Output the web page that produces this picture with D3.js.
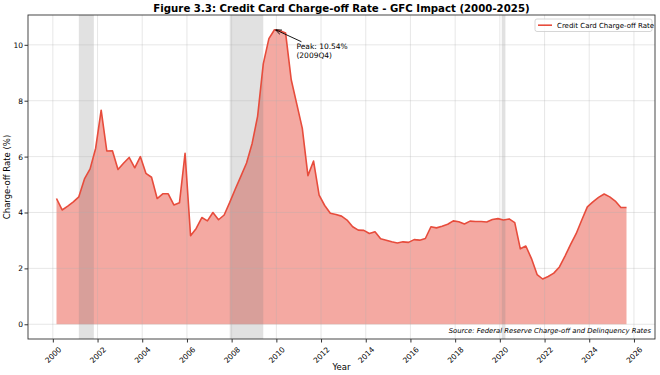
<!DOCTYPE html>
<html>
<head>
<meta charset="utf-8">
<script src="https://cdn.jsdelivr.net/npm/d3@7"></script>
<style>
  body { margin: 0; background: #fff; }
  text { font-family: "DejaVu Sans", sans-serif; fill: #000; }
</style>
</head>
<body>
<div id="chart"></div>
<script>
// quarterly credit card charge-off rate (%), 2000Q1 .. 2025Q3
const firstYear = 2000;
const rates = [
  4.50, 4.09, 4.23, 4.38, 4.56, 5.20, 5.56, 6.30, 7.66, 6.20,
  6.21, 5.54, 5.76, 5.97, 5.60, 6.00, 5.40, 5.26, 4.50, 4.67,
  4.67, 4.27, 4.35, 6.12, 3.17, 3.43, 3.82, 3.70, 4.00, 3.74,
  3.91, 4.36, 4.84, 5.30, 5.77, 6.47, 7.45, 9.32, 10.22, 10.54,
  10.50, 10.42, 8.75, 7.88, 7.01, 5.32, 5.84, 4.62, 4.25, 3.97,
  3.93, 3.87, 3.73, 3.49, 3.37, 3.36, 3.25, 3.31, 3.06, 3.01,
  2.95, 2.91, 2.95, 2.93, 3.03, 3.01, 3.07, 3.49, 3.45, 3.51,
  3.58, 3.70, 3.67, 3.59, 3.69, 3.68, 3.68, 3.66, 3.75, 3.78,
  3.73, 3.77, 3.64, 2.70, 2.80, 2.35, 1.78, 1.62, 1.71, 1.83,
  2.05, 2.44, 2.85, 3.24, 3.73, 4.20, 4.38, 4.54, 4.66, 4.56,
  4.41, 4.18, 4.18
];
// NBER recessions
const recessionStart = ["2001-03-01", "2007-12-01", "2020-02-01"];
const recessionEnd = ["2001-11-01", "2009-06-01", "2020-04-01"];
const yTicks = [0, 2, 4, 6, 8, 10];
const seriesName = "Credit Card Charge-off Rate";
const title = "Figure 3.3: Credit Card Charge-off Rate - GFC Impact (2000-2025)";
const sourceNote = "Source: Federal Reserve Charge-off and Delinquency Rates";

const data = rates.map((v, i) => {
  const yr = firstYear + Math.floor(i / 4);
  const q = i % 4;
  return { date: new Date(yr, q * 3 + 2, 1), label: `${yr}Q${q + 1}`, v: v };
});

const margin = { top: 15, right: 5, bottom: 36, left: 28 },
  width = 660 - margin.left - margin.right,
  height = 375 - margin.top - margin.bottom;

const svg = d3
  .select("#chart")
  .append("svg")
  .attr("width", width + margin.left + margin.right)
  .attr("height", height + margin.top + margin.bottom);

const g = svg.append("g").attr("transform", `translate(${margin.left},${margin.top})`);

// matplotlib-like 5% padding
const ext = d3.extent(data, (d) => +d.date);
const padX = (ext[1] - ext[0]) * 0.05;
const x = d3.scaleTime()
  .domain([new Date(ext[0] - padX), new Date(ext[1] + padX)])
  .range([0, width]);

const maxV = d3.max(data, (d) => d.v);
const y = d3.scaleLinear()
  .domain([-maxV * 0.05, maxV * 1.05])
  .range([height, 0]);

// area fill
const area = d3.area().x((d) => x(d.date)).y0(y(0)).y1((d) => y(d.v));
g.append("path").datum(data)
  .attr("d", area)
  .attr("fill", "#e74c3c")
  .attr("fill-opacity", 0.48);

// recession shading
g.append("g").selectAll("rect")
  .data(recessionStart.map((s, i) => [new Date(s), new Date(recessionEnd[i])]))
  .join("rect")
  .attr("x", (d) => x(d[0]))
  .attr("width", (d) => x(d[1]) - x(d[0]))
  .attr("y", 0)
  .attr("height", height)
  .attr("fill", "gray")
  .attr("fill-opacity", 0.24);

// grid
const xTicks = x.ticks(d3.timeYear.every(2));
g.append("g").selectAll("line")
  .data(xTicks)
  .join("line")
  .attr("x1", (d) => x(d)).attr("x2", (d) => x(d))
  .attr("y1", 0).attr("y2", height)
  .attr("stroke", "#b0b0b0").attr("stroke-opacity", 0.3);
g.append("g").selectAll("line")
  .data(yTicks)
  .join("line")
  .attr("y1", (d) => y(d)).attr("y2", (d) => y(d))
  .attr("x1", 0).attr("x2", width)
  .attr("stroke", "#b0b0b0").attr("stroke-opacity", 0.3);

// line
const line = d3.line().x((d) => x(d.date)).y((d) => y(d.v));
g.append("path").datum(data)
  .attr("d", line)
  .attr("fill", "none")
  .attr("stroke", "#e74c3c")
  .attr("stroke-width", 1.6)
  .attr("stroke-linejoin", "round");

// axes
const xAxis = g.append("g")
  .attr("transform", `translate(0,${height})`)
  .call(d3.axisBottom(x).tickValues(xTicks).tickFormat(d3.timeFormat("%Y")).tickSize(3.5).tickSizeOuter(0));
xAxis.selectAll("text")
  .attr("font-size", 7.5)
  .attr("text-anchor", "middle")
  .attr("dy", null)
  .attr("y", 0)
  .attr("dominant-baseline", "central")
  .attr("transform", "translate(0,16) rotate(-45)");

const yAxis = g.append("g")
  .call(d3.axisLeft(y).tickValues(yTicks).tickSize(3.5).tickSizeOuter(0));
yAxis.selectAll("text").attr("font-size", 7.5).attr("x", -5);

[xAxis, yAxis].forEach((a) => {
  a.select(".domain").remove();
  a.selectAll(".tick line").attr("stroke", "#333");
  a.selectAll("text").style("font-family", "DejaVu Sans").attr("fill", "#000");
});

// frame
g.append("rect")
  .attr("width", width).attr("height", height)
  .attr("fill", "none").attr("stroke", "#333").attr("stroke-width", 0.9);

// peak annotation
const peak = data.reduce((a, b) => (b.v > a.v ? b : a));
const px = x(peak.date), py = y(peak.v);
const tx = x(new Date(2010, 10, 25)), ty = y(9.86);
svg.append("defs").append("marker")
  .attr("id", "arr").attr("viewBox", "0 0 10 10")
  .attr("refX", 10).attr("refY", 5)
  .attr("markerWidth", 7).attr("markerHeight", 7)
  .attr("orient", "auto")
  .append("path").attr("d", "M0,1 L10,5 L0,9").attr("fill", "none").attr("stroke", "#000").attr("stroke-width", 1.2);
g.append("line")
  .attr("x1", tx + 5).attr("y1", ty - 7)
  .attr("x2", px + 1).attr("y2", py)
  .attr("stroke", "#000").attr("stroke-width", 0.9)
  .attr("marker-end", "url(#arr)");
const ann = g.append("text").attr("x", tx).attr("y", ty).attr("font-size", 7.5);
ann.append("tspan").attr("x", tx).text(`Peak: ${peak.v.toFixed(2)}%`);
ann.append("tspan").attr("x", tx).attr("dy", "1.2em").text(`(${peak.label})`);

// source note
g.append("text")
  .attr("x", width - 4).attr("y", height - 6)
  .attr("text-anchor", "end")
  .attr("font-size", 6.8)
  .style("font-style", "italic")
  .text(sourceNote);

// legend
const lg = g.append("g").attr("transform", `translate(${width - 120},4)`);
lg.append("rect")
  .attr("width", 117).attr("height", 12.5).attr("rx", 2)
  .attr("fill", "#fff").attr("fill-opacity", 0.8)
  .attr("stroke", "#ccc").attr("stroke-width", 0.8);
lg.append("line")
  .attr("x1", 3).attr("x2", 17).attr("y1", 6.2).attr("y2", 6.2)
  .attr("stroke", "#e74c3c").attr("stroke-width", 1.6);
lg.append("text")
  .attr("x", 22).attr("y", 8.8)
  .attr("font-size", 7)
  .text(seriesName);

// titles
svg.append("text")
  .attr("x", margin.left + width / 2).attr("y", 11.5)
  .attr("text-anchor", "middle")
  .attr("font-size", 10.2)
  .attr("font-weight", "bold")
  .text(title);

svg.append("text")
  .attr("x", margin.left + width / 2).attr("y", 370)
  .attr("text-anchor", "middle")
  .attr("font-size", 8.5)
  .text("Year");

svg.append("text")
  .attr("transform", "rotate(-90)")
  .attr("x", -(margin.top + height / 2)).attr("y", 10)
  .attr("text-anchor", "middle")
  .attr("font-size", 8.5)
  .text("Charge-off Rate (%)");
</script>
</body>
</html>
